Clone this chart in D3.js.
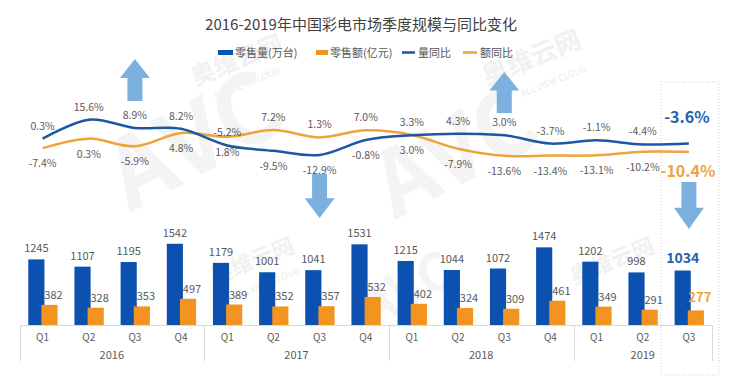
<!DOCTYPE html>
<html>
<head>
<meta charset="utf-8">
<script src="https://cdn.jsdelivr.net/npm/d3@7"></script>
<style>
  body { margin: 0; background: #fff; }
  text { font-family: "Noto Sans CJK SC", "Noto Sans", sans-serif; }
</style>
</head>
<body>
<div id="chart"></div>
<script>
// data
const quarters = ["Q1","Q2","Q3","Q4","Q1","Q2","Q3","Q4","Q1","Q2","Q3","Q4","Q1","Q2","Q3"];
const years = ["2016","2017","2018","2019"];
const yearOf = ["2016","2016","2016","2016","2017","2017","2017","2017","2018","2018","2018","2018","2019","2019","2019"];
const volume = [1245, 1107, 1195, 1542, 1179, 1001, 1041, 1531, 1215, 1044, 1072, 1474, 1202, 998, 1034];
const amount = [382, 328, 353, 497, 389, 352, 357, 532, 402, 324, 309, 461, 349, 291, 277];
const volYoy = [0.3, 15.6, 8.9, 8.2, -5.2, -9.5, -12.9, -0.8, 3.0, 4.3, 3.0, -3.7, -1.1, -4.4, -3.6];
const amtYoy = [-7.4, 0.3, -5.9, 4.8, 1.8, 7.2, 1.3, 7.0, 3.3, -7.9, -13.6, -13.4, -13.1, -10.2, -10.4];
// which side the volume-yoy label sits on (amount label takes the other side)
const volLabelUp = [1,1,1,1,1,0,0,0,0,1,1,1,1,1,1];

const width = 733, height = 379;
const blueBar = "#0c51af", orangeBar = "#f39320";
const blueLine = "#1d57a3", orangeLine = "#eea43a";
const arrowColor = "#7cb1df";

const svg = d3.select("#chart")
    .append("svg")
    .attr("width", width)
    .attr("height", height);

const keys = quarters.map((q, i) => yearOf[i] + q);

const x = d3.scaleBand()
    .domain(keys)
    .range([19.5, 712])
    .padding(0);
const bw = x.bandwidth();
const cx = i => x(keys[i]) + bw / 2;

const yBar = d3.scaleLinear().domain([0, 1600]).range([325, 240.7]);
const yLine = d3.scaleLinear().domain([-20, 20]).range([163.8, 114.2]);

// faint watermark
const wm = svg.append("g").attr("fill", "#f1f1f1");
[[240, 68, 24, "奥维云网"], [535, 66, 26, "奥维云网"], [255, 268, 22, "奥维云网"], [615, 268, 22, "奥维云网"]]
  .forEach(d => {
    wm.append("text").attr("transform", `translate(${d[0]},${d[1]}) rotate(-22)`)
      .attr("text-anchor", "middle").attr("font-size", d[2]).attr("font-weight", "bold").text(d[3]);
  });
[[248, 86, "ALL VIEW CLOUD"], [555, 84, "ALL VIEW CLOUD"], [268, 286, "ALL VIEW CLOUD"]]
  .forEach(d => {
    wm.append("text").attr("transform", `translate(${d[0]},${d[1]}) rotate(-22)`)
      .attr("text-anchor", "middle").attr("font-size", 9).attr("fill", "#ececec").text(d[2]);
  });
[[210, 170, 96], [470, 180, 90], [415, 305, 52]].forEach(d => {
  wm.append("text").attr("transform", `translate(${d[0]},${d[1]}) rotate(-28)`)
    .attr("text-anchor", "middle").attr("font-size", d[2]).attr("font-weight", "bold")
    .attr("font-family", "DejaVu Sans").attr("fill", "#f4f4f4").text("AVC");
});

// title
svg.append("text")
    .attr("x", 361).attr("y", 30)
    .attr("text-anchor", "middle")
    .attr("font-size", 15)
    .attr("fill", "#404040")
    .text("2016-2019年中国彩电市场季度规模与同比变化");

// legend
const legend = svg.append("g").attr("font-size", 11).attr("fill", "#555");
legend.append("rect").attr("x", 218).attr("y", 50).attr("width", 15).attr("height", 5).attr("fill", blueBar);
legend.append("text").attr("x", 235).attr("y", 56.5).text("零售量(万台)");
legend.append("rect").attr("x", 316).attr("y", 50).attr("width", 12).attr("height", 5).attr("fill", orangeBar);
legend.append("text").attr("x", 330).attr("y", 56.5).text("零售额(亿元)");
legend.append("line").attr("x1", 402).attr("x2", 415).attr("y1", 52.5).attr("y2", 52.5)
    .attr("stroke", blueLine).attr("stroke-width", 2.5);
legend.append("text").attr("x", 418).attr("y", 56.5).text("量同比");
legend.append("line").attr("x1", 463).attr("x2", 477).attr("y1", 52.5).attr("y2", 52.5)
    .attr("stroke", orangeLine).attr("stroke-width", 2.5);
legend.append("text").attr("x", 480).attr("y", 56.5).text("额同比");

// highlight box around last quarter
svg.append("rect")
    .attr("x", 661).attr("y", 82).attr("width", 58).attr("height", 293)
    .attr("fill", "none").attr("stroke", "#cfcfcf").attr("stroke-dasharray", "1,2");

// arrows
function arrow(xc, tip, end) {
  const dir = end > tip ? 1 : -1;
  const len = Math.abs(end - tip), head = len * 0.45;
  const sw = 7.5, hw = 15;
  const hb = tip + dir * head;
  return `M${xc},${tip} L${xc + hw},${hb} L${xc + sw},${hb} L${xc + sw},${end} L${xc - sw},${end} L${xc - sw},${hb} L${xc - hw},${hb} Z`;
}
const arrows = [[2, 59, 101], [6, 218, 174], [10, 72, 113], [14, 229, 182]];
svg.append("g").selectAll("path")
    .data(arrows)
    .join("path")
    .attr("d", d => arrow(cx(d[0]), d[1], d[2]))
    .attr("fill", arrowColor);

// x axis
const axis = svg.append("g").attr("stroke", "#d9d9d9").attr("stroke-width", 1);
axis.append("line").attr("x1", x.range()[0]).attr("x2", x.range()[1]).attr("y1", 325.5).attr("y2", 325.5);
const yearEdges = [0, 4, 8, 12, 15].map(i => i < 15 ? x(keys[i]) : x.range()[1]);
axis.selectAll(".sep")
    .data(yearEdges)
    .join("line")
    .attr("x1", d => Math.round(d) + 0.5).attr("x2", d => Math.round(d) + 0.5)
    .attr("y1", 325).attr("y2", 361);

svg.append("g").selectAll("text")
    .data(quarters)
    .join("text")
    .attr("x", (d, i) => cx(i))
    .attr("y", 341)
    .attr("text-anchor", "middle")
    .attr("font-size", 10)
    .attr("fill", "#595959")
    .text(d => d);

svg.append("g").selectAll("text")
    .data(years)
    .join("text")
    .attr("x", (d, i) => (yearEdges[i] + yearEdges[i + 1]) / 2)
    .attr("y", 359)
    .attr("text-anchor", "middle")
    .attr("font-size", 11)
    .attr("fill", "#595959")
    .text(d => d);

// bars
const blueOff = bw * 0.19, orangeOff = bw * 0.475, barW = bw * 0.35;
svg.append("g").selectAll("rect")
    .data(volume)
    .join("rect")
    .attr("x", (d, i) => x(keys[i]) + blueOff)
    .attr("y", d => yBar(d))
    .attr("width", barW)
    .attr("height", d => yBar(0) - yBar(d))
    .attr("fill", blueBar);

svg.append("g").selectAll("rect")
    .data(amount)
    .join("rect")
    .attr("x", (d, i) => x(keys[i]) + orangeOff)
    .attr("y", d => yBar(d))
    .attr("width", barW)
    .attr("height", d => yBar(0) - yBar(d))
    .attr("fill", orangeBar);

const last = keys.length - 1;
svg.append("g").selectAll("text")
    .data(volume)
    .join("text")
    .attr("x", (d, i) => x(keys[i]) + blueOff + barW / 2)
    .attr("y", (d, i) => yBar(d) - (i === last ? 8 : 7))
    .attr("text-anchor", "middle")
    .attr("font-size", (d, i) => i === last ? 14 : 11)
    .attr("font-weight", (d, i) => i === last ? "bold" : "normal")
    .attr("fill", (d, i) => i === last ? "#1f62b0" : "#595959")
    .text(d => d);

svg.append("g").selectAll("text")
    .data(amount)
    .join("text")
    .attr("x", (d, i) => x(keys[i]) + orangeOff + barW / 2 + 4)
    .attr("y", (d, i) => yBar(d) - (i === last ? 8 : 6))
    .attr("text-anchor", "middle")
    .attr("font-size", (d, i) => i === last ? 13 : 11)
    .attr("font-weight", (d, i) => i === last ? "bold" : "normal")
    .attr("fill", (d, i) => i === last ? "#eea43a" : "#595959")
    .text(d => d);

// yoy lines
const line = d3.line()
    .x((d, i) => cx(i))
    .y(d => yLine(d))
    .curve(d3.curveCatmullRom.alpha(0));

svg.append("path").datum(amtYoy)
    .attr("d", line).attr("fill", "none")
    .attr("stroke", orangeLine).attr("stroke-width", 2.5);
svg.append("path").datum(volYoy)
    .attr("d", line).attr("fill", "none")
    .attr("stroke", blueLine).attr("stroke-width", 2.5);

const fmt = v => d3.format(".1f")(v).replace("−", "-") + "%";

function yoyLabels(values, upFlags) {
  svg.append("g").selectAll("text")
    .data(values.slice(0, last))
    .join("text")
    .attr("x", (d, i) => cx(i))
    .attr("y", (d, i) => upFlags[i] ? yLine(d) - 9 : yLine(d) + 19)
    .attr("text-anchor", "middle")
    .attr("font-size", 10.5)
    .attr("fill", "#595959")
    .text(fmt);
}
yoyLabels(volYoy, volLabelUp);
yoyLabels(amtYoy, volLabelUp.map(f => !f));

// highlighted last values
svg.append("text")
    .attr("x", cx(last) - 2).attr("y", yLine(volYoy[last]) - 20)
    .attr("text-anchor", "middle")
    .attr("font-size", 16).attr("font-weight", "bold")
    .attr("fill", "#1f62b0")
    .text(fmt(volYoy[last]));
svg.append("text")
    .attr("x", cx(last) - 1).attr("y", yLine(amtYoy[last]) + 25)
    .attr("text-anchor", "middle")
    .attr("font-size", 16).attr("font-weight", "bold")
    .attr("fill", "#eea43a")
    .text(fmt(amtYoy[last]));
</script>
</body>
</html>
